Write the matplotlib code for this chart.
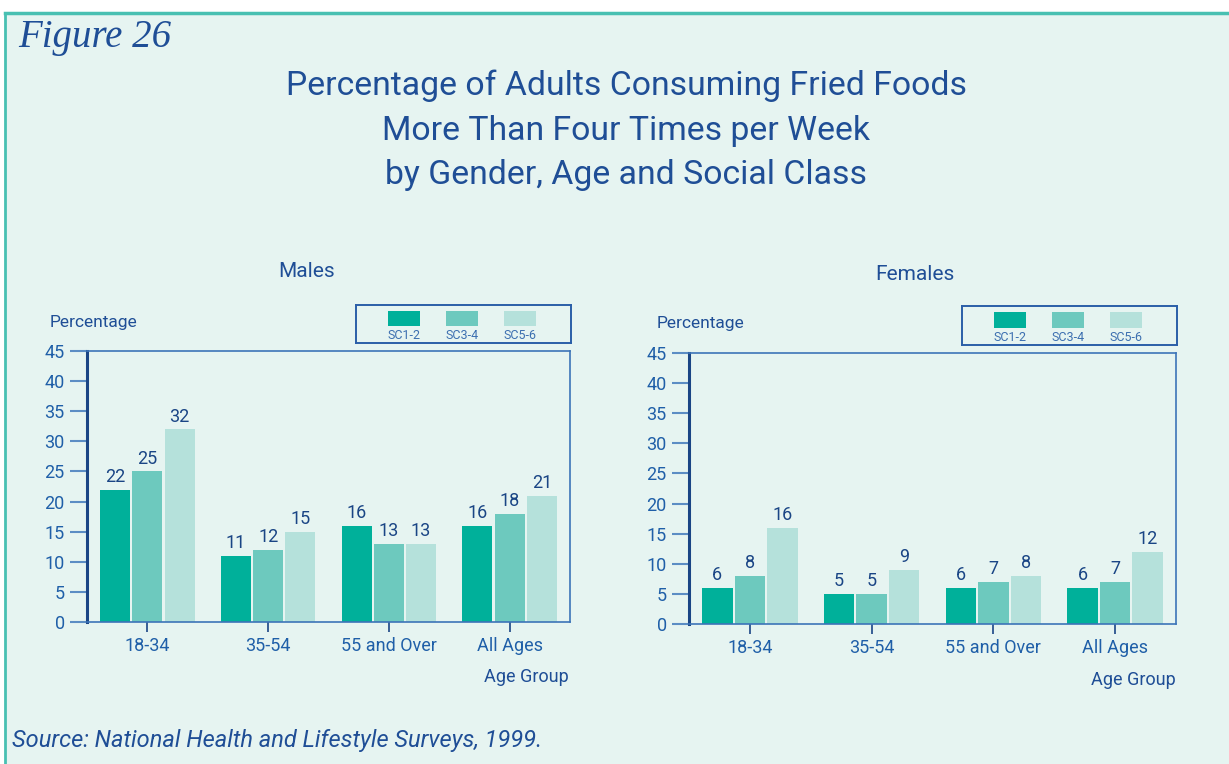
import matplotlib
matplotlib.use("Agg")
import matplotlib.pyplot as plt
from matplotlib.patches import Rectangle
import numpy as np

# ---- data ----
age_groups = ["18-34", "35-54", "55 and Over", "All Ages"]
classes = ["SC1-2", "SC3-4", "SC5-6"]
males_sc12 = [22, 11, 16, 16]
males_sc34 = [25, 12, 13, 18]
males_sc56 = [32, 15, 13, 21]
females_sc12 = [6, 5, 6, 6]
females_sc34 = [8, 5, 7, 7]
females_sc56 = [16, 9, 8, 12]
y_ticks = [0, 5, 10, 15, 20, 25, 30, 35, 40, 45]
title_lines = ["Percentage of Adults Consuming Fried Foods",
               "More Than Four Times per Week",
               "by Gender, Age and Social Class"]

colors = ["#00B09A", "#6DC9BE", "#B5E1DB"]
bg = "#E6F4F1"
txt = "#1F5FA8"
navy = "#1A4585"
frame_teal = "#48C0B2"

plt.rcParams['font.family'] = ['Roboto', 'DejaVu Sans']

fig = plt.figure(figsize=(12.29, 7.64), dpi=100)
fig.patch.set_facecolor("white")

W, H = 1229, 764
def fx(x): return x / W
def fy(y): return 1 - y / H

fig.patches.append(Rectangle((fx(5), 0), 1 - fx(5), fy(13), transform=fig.transFigure,
                             facecolor=bg, edgecolor="none", zorder=-10))
fig.lines.append(plt.Line2D([fx(5), 1], [fy(13), fy(13)], transform=fig.transFigure,
                            color=frame_teal, lw=2.5, zorder=-5))
fig.lines.append(plt.Line2D([fx(5), fx(5)], [0, fy(13)], transform=fig.transFigure,
                            color=frame_teal, lw=2.0, zorder=-5))

fig.text(fx(18), fy(38), "Figure 26", family=["Liberation Serif", "DejaVu Serif"],
         style="italic", fontsize=28, color="#1F4E96", va="center", ha="left")

for yy, line in zip([86, 131, 175], title_lines):
    fig.text(fx(626), fy(yy), line, fontsize=24.3, color="#1F4E96", ha="center", va="center")

fig.text(fx(12), fy(741), "Source: National Health and Lifestyle Surveys, 1999.", style="italic",
         fontsize=17, color="#1F4E96", ha="left", va="center")


def draw_panel(rect, vals, title_xy, title_text, perc_xy, agegrp_xy, leg_rect):
    ax = fig.add_axes(rect)
    ax.set_facecolor(bg)
    x = np.arange(len(age_groups))
    w = 0.25
    gap = 0.017
    offs = [-(w + gap), 0, (w + gap)]
    for i, series in enumerate(vals):
        bars = ax.bar(x + offs[i], series, width=w, color=colors[i], zorder=2)
        for b, v in zip(bars, series):
            ax.text(b.get_x() + b.get_width() / 2, v + 0.6, str(v), ha="center", va="bottom",
                    fontsize=13, color=navy)
    ax.set_xlim(-0.5, 3.5)
    ax.set_ylim(0, 45)
    ax.set_yticks(y_ticks)
    ax.set_yticklabels([str(t) for t in y_ticks], fontsize=13, color=txt)
    ax.set_xticks(x)
    ax.set_xticklabels(age_groups, fontsize=13, color=txt)
    ax.tick_params(axis="y", length=12, width=1.5, color="#5B8DC4", pad=4, direction="out")
    ax.tick_params(axis="x", length=7, width=1.2, color=navy, pad=4, direction="out")
    for s in ["top", "right", "bottom"]:
        ax.spines[s].set_color("#3C74B8")
        ax.spines[s].set_linewidth(1.2)
    ax.spines["left"].set_color(navy)
    ax.spines["left"].set_linewidth(2.2)

    fig.text(fx(title_xy[0]), fy(title_xy[1]), title_text, fontsize=15, color="#1F4E96",
             ha="center", va="center")
    fig.text(fx(perc_xy[0]), fy(perc_xy[1]), "Percentage", fontsize=12.5, color="#1F4E96",
             ha="left", va="center")
    fig.text(fx(agegrp_xy[0]), fy(agegrp_xy[1]), "Age Group", fontsize=13, color="#1F4E96",
             ha="center", va="center")

    l, t, r, b = leg_rect
    lax = fig.add_axes([fx(l), fy(b), fx(r) - fx(l), fy(t) - fy(b)])
    lax.set_facecolor(bg)
    lax.set_xlim(0, 1)
    lax.set_ylim(0, 1)
    lax.set_xticks([])
    lax.set_yticks([])
    for s in lax.spines.values():
        s.set_color("#2A5EA8")
        s.set_linewidth(1.4)
    centers = [0.223, 0.493, 0.763]
    pw = 0.149
    for c, col, lab in zip(centers, colors, classes):
        lax.add_patch(Rectangle((c - pw / 2, 0.447), pw, 0.395, facecolor=col, edgecolor="none"))
        lax.text(c, 0.2, lab, ha="center", va="center", fontsize=9, color="#3C6FB0")
    return ax


draw_panel([fx(87), fy(622), fx(570) - fx(87), fy(351) - fy(622)],
           [males_sc12, males_sc34, males_sc56],
           (307, 272), "Males", (50, 322), (526, 677), (356, 305, 571, 343))
draw_panel([fx(689), fy(624), fx(1176) - fx(689), fy(353) - fy(624)],
           [females_sc12, females_sc34, females_sc56],
           (915, 274), "Females", (657, 324), (1133, 680), (962, 306, 1177, 345))

fig.savefig("out.png", dpi=100, facecolor=fig.get_facecolor())
